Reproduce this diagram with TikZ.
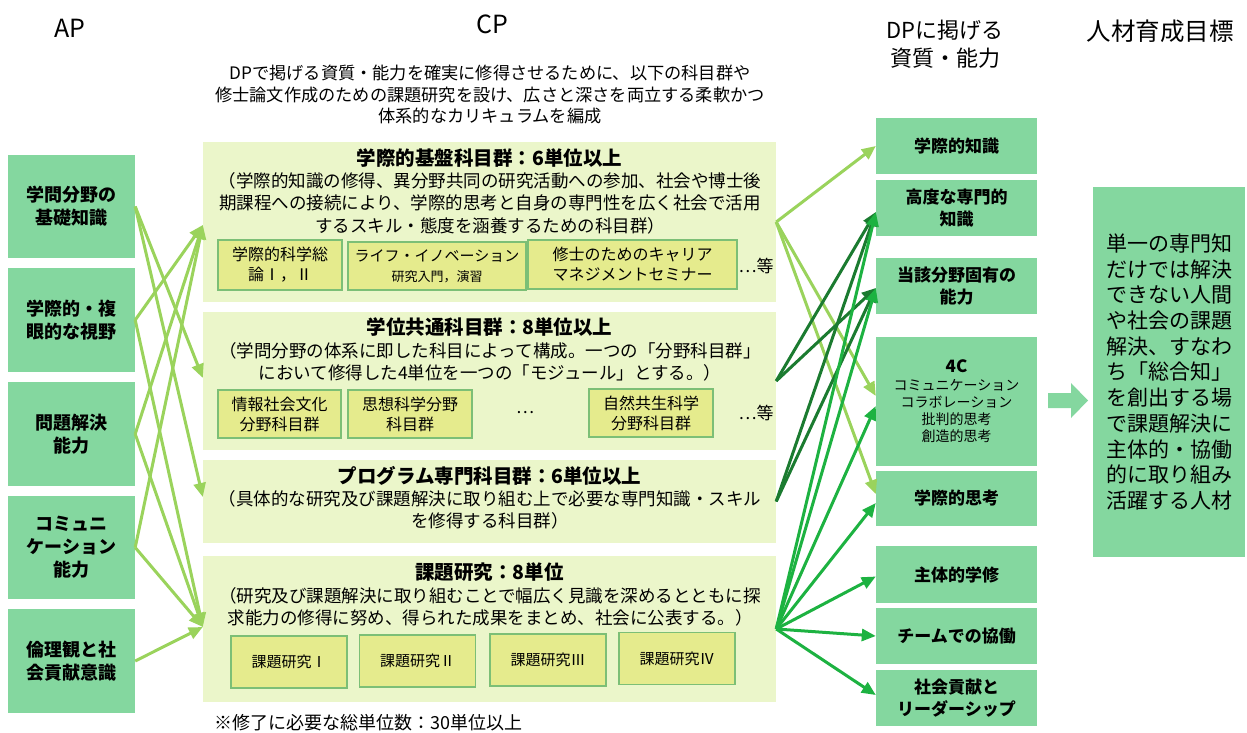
\documentclass[tikz,border=0pt]{standalone}
\usepackage{fontspec}
\setmainfont{Noto Sans CJK JP}
\usetikzlibrary{arrows.meta}
\definecolor{boxg}{HTML}{84D79F}
\definecolor{cpbg}{HTML}{EBF6CA}
\definecolor{subbg}{HTML}{E5EB8D}
\definecolor{subbd}{HTML}{7CBF76}
\definecolor{lg}{HTML}{9AD35C}
\definecolor{dg}{HTML}{1B7B30}
\definecolor{bg}{HTML}{1DB241}
\newcommand{\fsz}[2]{\fontsize{#1}{#2}\selectfont}
\begin{document}
\begin{tikzpicture}[x=1pt,y=-1pt,
  wh/.style 2 args={minimum width=#1pt, minimum height=#2pt},
  greenbox/.style={fill=boxg, inner sep=0pt, align=center, font=\fsz{18}{23}\bfseries},
  cpbox/.style={fill=cpbg, inner sep=0pt},
  subbox/.style={fill=subbg, draw=subbd, line width=1.2pt, inner sep=0pt, align=center, font=\fsz{16}{20}},
  head/.style={font=\fsz{22}{28}, align=center},
  body/.style={font=\fsz{17.5}{22.5}, align=center},
  ttl/.style={font=\fsz{19.5}{22}\bfseries},
  conn/.style={line width=3pt, -{Triangle[length=14pt,width=12pt]}}]
\useasboundingbox (0,0) rectangle (1247,733);

% headers
\node[head, font=\fsz{25}{28}] (hap) at (70,28) {AP};
\node[head, font=\fsz{25}{28}] (hcp) at (492,24) {CP};
\node[head] (hdp) at (945,44) {DPに掲げる\\資質・能力};
\node[head, font=\fsz{24.5}{28}] (hgoal) at (1160,31) {人材育成目標};
\node[font=\fsz{17.2}{21.5}, align=center] (intro) at (490,95) {DPで掲げる資質・能力を確実に修得させるために、以下の科目群や\\修士論文作成のための課題研究を設け、広さと深さを両立する柔軟かつ\\体系的なカリキュラムを編成};

% AP boxes
\node[greenbox, wh={127}{103}] (ap1) at (71.5,206.5) {学問分野の\\基礎知識};
\node[greenbox, wh={127}{104}] (ap2) at (71.5,320) {学際的・複\\眼的な視野};
\node[greenbox, wh={127}{104}] (ap3) at (71.5,434) {問題解決\\能力};
\node[greenbox, wh={127}{103}] (ap4) at (71.5,547.5) {コミュニ\\ケーション\\能力};
\node[greenbox, wh={127}{104}] (ap5) at (71.5,661) {倫理観と社\\会貢献意識};

% CP boxes
\node[cpbox, wh={573}{160}] (cp1) at (489.5,222) {};
\node[cpbox, wh={573}{138}] (cp2) at (489.5,381) {};
\node[cpbox, wh={573}{83}] (cp3) at (489.5,501.5) {};
\node[cpbox, wh={573}{146}] (cp4) at (489.5,629) {};

\node[ttl] (cp1t) at (489.5,158) {学際的基盤科目群：6単位以上};
\node[body] (cp1b) at (490,203) {（学際的知識の修得、異分野共同の研究活動への参加、社会や博士後\\期課程への接続により、学際的思考と自身の専門性を広く社会で活用\\するスキル・態度を涵養するための科目群）};
\node[subbox, wh={124}{50}] (s11) at (280,265) {学際的科学総\\論Ⅰ，Ⅱ};
\node[subbox, wh={178}{48}] (s12) at (437,266) {{\fsz{15}{20}ライフ・イノベーション}\\{\fsz{13}{18}研究入門，演習}};
\node[subbox, wh={209}{49}] (s13) at (632.5,264.5) {修士のためのキャリア\\マネジメントセミナー};
\node[font=\fsz{17}{20}] (e1) at (756,266) {…等};

\node[ttl] (cp2t) at (489.5,327) {学位共通科目群：8単位以上};
\node[body] (cp2b) at (490,362) {（学問分野の体系に即した科目によって構成。一つの「分野科目群」\\において修得した4単位を一つの「モジュール」とする。）};
\node[subbox, wh={123}{48}] (s21) at (279.5,414) {情報社会文化\\分野科目群};
\node[subbox, wh={124}{48}] (s22) at (410,414) {思想科学分野\\科目群};
\node[font=\fsz{17}{20}] (d2) at (525,413) {…};
\node[subbox, wh={124}{48}] (s23) at (651,413) {自然共生科学\\分野科目群};
\node[font=\fsz{17}{20}] (e2) at (756,413) {…等};

\node[ttl] (cp3t) at (489.5,476) {プログラム専門科目群：6単位以上};
\node[body] (cp3b) at (490,510) {（具体的な研究及び課題解決に取り組む上で必要な専門知識・スキル\\を修得する科目群）};

\node[ttl] (cp4t) at (489.5,572) {課題研究：8単位};
\node[body] (cp4b) at (490,607) {（研究及び課題解決に取り組むことで幅広く見識を深めるとともに探\\求能力の修得に努め、得られた成果をまとめ、社会に公表する。）};
\node[subbox, wh={116}{52}, font=\fsz{15}{20}] (k1) at (289,662) {課題研究Ⅰ};
\node[subbox, wh={116}{52}, font=\fsz{15}{20}] (k2) at (417.5,661) {課題研究Ⅱ};
\node[subbox, wh={116}{52}, font=\fsz{15}{20}] (k3) at (548,660) {課題研究Ⅲ};
\node[subbox, wh={116}{52}, font=\fsz{15}{20}] (k4) at (677,658.5) {課題研究Ⅳ};

\node[anchor=west, font=\fsz{18}{22}] (foot) at (211,723) {※修了に必要な総単位数：30単位以上};

% DP boxes
\node[greenbox, wh={161}{56}, font=\fsz{17}{22}\bfseries] (dp1) at (956.5,146) {学際的知識};
\node[greenbox, wh={161}{56}, font=\fsz{17}{22}\bfseries] (dp2) at (956.5,208) {高度な専門的\\知識};
\node[greenbox, wh={161}{56}, font=\fsz{17}{22}\bfseries] (dp3) at (956.5,286) {当該分野固有の\\能力};
\node[greenbox, wh={161}{129}, font=\fsz{14}{17}] (dp4) at (956.5,401.5) {{\fsz{17}{20}\bfseries 4C}\\[1pt]コミュニケーション\\コラボレーション\\批判的思考\\創造的思考};
\node[greenbox, wh={161}{55}, font=\fsz{17}{22}\bfseries] (dp5) at (956.5,498.5) {学際的思考};
\node[greenbox, wh={161}{57}, font=\fsz{17}{22}\bfseries] (dp6) at (956.5,574.5) {主体的学修};
\node[greenbox, wh={161}{56}, font=\fsz{17}{22}\bfseries] (dp7) at (956.5,636) {チームでの協働};
\node[greenbox, wh={161}{56}, font=\fsz{17}{22}\bfseries] (dp8) at (956.5,698) {社会貢献と\\リーダーシップ};

% goal
\node[fill=boxg, wh={152}{370}, inner sep=0pt, align=left, font=\fsz{21}{25.7}] (goal) at (1169,372) {単一の専門知\\だけでは解決\\できない人間\\や社会の課題\\解決、すなわ\\ち「総合知」\\を創出する場\\で課題解決に\\主体的・協働\\的に取り組み\\活躍する人材};
\fill[boxg] (1048,393) -- (1071,393) -- (1071,383) -- (1088,400.5) -- (1071,418) -- (1071,408) -- (1048,408) -- cycle;

% AP -> CP
\draw[conn, lg] (ap1.east) -- ([yshift=3pt]cp2.west);
\draw[conn, lg] (ap1.east) -- ([yshift=4.5pt]cp3.west);
\draw[conn, lg] (ap2.east) -- ([yshift=-3pt]cp1.west);
\draw[conn, lg] (ap2.east) -- ([yshift=2pt]cp4.west);
\draw[conn, lg] (ap3.east) -- ([yshift=-3pt]cp1.west);
\draw[conn, lg] (ap3.east) -- ([yshift=2pt]cp4.west);
\draw[conn, lg] (ap4.east) -- ([yshift=-3pt]cp1.west);
\draw[conn, lg] (ap4.east) -- ([yshift=2pt]cp4.west);
\draw[conn, lg] (ap5.east) -- ([yshift=2pt]cp4.west);

% CP -> DP
\draw[conn, lg] (cp1.east) -- (dp1.west);
\draw[conn, lg] (cp1.east) -- ([yshift=5.5pt]dp4.west);
\draw[conn, lg] (cp1.east) -- ([yshift=4.5pt]dp5.west);
\draw[conn, dg] (cp2.east) -- ([yshift=-4pt]dp2.west);
\draw[conn, dg] (cp2.east) -- ([yshift=-2pt]dp3.west);
\draw[conn, dg] (cp3.east) -- ([yshift=-4pt]dp2.west);
\draw[conn, dg] (cp3.east) -- ([yshift=-2pt]dp3.west);
\draw[conn, bg] (cp4.east) -- ([yshift=-4pt]dp2.west);
\draw[conn, bg] (cp4.east) -- ([yshift=-2pt]dp3.west);
\draw[conn, bg] (cp4.east) -- ([yshift=-4.5pt]dp4.west);
\draw[conn, bg] (cp4.east) -- ([yshift=-4.5pt]dp5.west);
\draw[conn, bg] (cp4.east) -- ([yshift=-2pt]dp6.west);
\draw[conn, bg] (cp4.east) -- (dp7.west);
\draw[conn, bg] (cp4.east) -- ([yshift=3pt]dp8.west);
\end{tikzpicture}
\end{document}
